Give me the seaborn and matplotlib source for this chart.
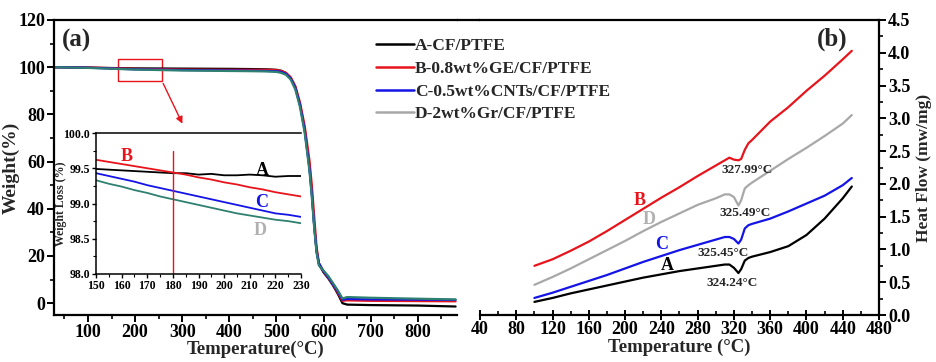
import matplotlib
matplotlib.use("Agg")
import matplotlib.pyplot as plt
import seaborn as sns
import pandas as pd
from matplotlib.lines import Line2D
from matplotlib.patches import Rectangle
from matplotlib.ticker import MultipleLocator, FormatStrFormatter

# ---------------- data ----------------
series_names = ["A-CF/PTFE", "B-0.8wt%GE/CF/PTFE", "C-0.5wt%CNTs/CF/PTFE", "D-2wt%Gr/CF/PTFE"]
legend_colors = ["#000000", "#e8141c", "#1414e6", "#a8a8a8"]
tga_colors = ["#000000", "#e8141c", "#1414e6", "#2e8070"]

tga_temp = [30, 100, 200, 300, 400, 450, 480, 500, 510, 520, 530, 540, 550, 560, 570, 575,
            580, 585, 590, 600, 610, 620, 630, 640, 650, 700, 800, 880]
tga_A = [100.0, 99.8, 99.5, 99.4, 99.3, 99.2, 99.1, 98.9, 98.5, 97.6, 95.5, 91.5, 84.0, 73.5,
         58.0, 47.0, 33.0, 22.0, 16.5, 13.0, 10.5, 7.5, 4.0, 0.0, -0.6, -0.8, -1.0, -1.4]
tga_B = [100.0, 99.9, 99.3, 99.0, 98.9, 98.9, 98.9, 98.8, 98.4, 97.6, 95.8, 92.0, 85.0, 75.0,
         60.5, 50.0, 37.0, 24.0, 17.0, 13.3, 10.8, 7.8, 4.5, 1.0, 1.2, 1.0, 0.9, 0.8]
tga_C = [100.0, 99.8, 99.1, 98.8, 98.6, 98.5, 98.4, 98.3, 98.0, 97.2, 95.3, 91.3, 84.0, 73.0,
         57.0, 46.0, 33.0, 22.5, 17.0, 13.5, 11.0, 8.0, 5.0, 1.5, 1.8, 1.6, 1.5, 1.4]
tga_D = [100.0, 99.7, 99.0, 98.6, 98.4, 98.3, 98.2, 98.0, 97.6, 96.8, 94.8, 90.5, 83.0, 72.0,
         56.0, 45.0, 32.0, 21.5, 16.0, 13.8, 11.5, 8.5, 5.5, 2.0, 2.6, 2.3, 1.9, 1.6]

inset_temp = [150, 155, 160, 165, 170, 175, 180, 185, 190, 195, 200, 205, 210, 215, 220, 225, 230]
inset_A = [99.49, 99.48, 99.47, 99.46, 99.45, 99.44, 99.43, 99.43, 99.41, 99.42, 99.40, 99.40,
           99.41, 99.40, 99.38, 99.39, 99.39]
inset_B = [99.62, 99.59, 99.56, 99.53, 99.50, 99.47, 99.44, 99.41, 99.37, 99.34, 99.30, 99.27,
           99.23, 99.20, 99.16, 99.13, 99.10]
inset_C = [99.43, 99.39, 99.35, 99.31, 99.26, 99.22, 99.18, 99.14, 99.10, 99.06, 99.02, 98.98,
           98.94, 98.90, 98.86, 98.84, 98.81]
inset_D = [99.33, 99.28, 99.24, 99.19, 99.15, 99.10, 99.06, 99.02, 98.98, 98.94, 98.90, 98.86,
           98.83, 98.80, 98.77, 98.75, 98.72]

dsc_temp = [100, 120, 140, 160, 180, 200, 220, 240, 260, 280, 300, 310, 315, 320, 325, 328,
            332, 336, 340, 360, 380, 400, 420, 440, 450]
dsc_A = [0.20, 0.26, 0.33, 0.39, 0.45, 0.51, 0.57, 0.62, 0.67, 0.71, 0.75, 0.77, 0.77, 0.72,
         0.64, 0.70, 0.83, 0.87, 0.89, 0.96, 1.05, 1.22, 1.47, 1.78, 1.96]
dsc_B = [0.75, 0.85, 0.98, 1.12, 1.28, 1.45, 1.62, 1.79, 1.95, 2.12, 2.28, 2.36, 2.40, 2.37,
         2.36, 2.38, 2.52, 2.62, 2.67, 2.95, 3.17, 3.42, 3.65, 3.90, 4.03]
dsc_C = [0.26, 0.34, 0.43, 0.52, 0.61, 0.71, 0.81, 0.90, 0.99, 1.07, 1.15, 1.19, 1.19, 1.16,
         1.09, 1.15, 1.32, 1.37, 1.39, 1.47, 1.58, 1.70, 1.82, 1.98, 2.09]
dsc_D = [0.46, 0.58, 0.71, 0.85, 0.99, 1.13, 1.28, 1.42, 1.55, 1.68, 1.78, 1.84, 1.84, 1.80,
         1.67, 1.75, 1.93, 1.98, 2.02, 2.20, 2.38, 2.55, 2.73, 2.92, 3.05]

peak_labels = ["324.24°C", "327.99°C", "325.45°C", "325.49°C"]

# ---------------- style ----------------
sns.set_theme(style="ticks")
plt.rcParams["font.family"] = ["Liberation Serif", "DejaVu Serif"]
plt.rcParams["font.weight"] = "bold"
plt.rcParams["axes.labelweight"] = "bold"
plt.rcParams["axes.linewidth"] = 1.6
plt.rcParams["xtick.major.width"] = 1.4
plt.rcParams["ytick.major.width"] = 1.4
plt.rcParams["xtick.minor.width"] = 1.2
plt.rcParams["ytick.minor.width"] = 1.2
plt.rcParams["xtick.color"] = "black"
plt.rcParams["ytick.color"] = "black"
plt.rcParams["axes.edgecolor"] = "black"

W, H = 936, 362
fig = plt.figure(figsize=(W / 100, H / 100), dpi=100)

def fx(px):
    return px / W

def fy(py):
    return 1 - py / H

ax1 = fig.add_axes([fx(54), fy(315), fx(457) - fx(54), fy(20) - fy(315)])
ax2 = fig.add_axes([fx(480), fy(315), fx(879) - fx(480), fy(20) - fy(315)])

# ---------------- panel (a) ----------------
tga_df = pd.DataFrame({"T": tga_temp * 4,
                       "W": tga_A + tga_B + tga_C + tga_D,
                       "s": sum([[n] * len(tga_temp) for n in series_names], [])})
sns.lineplot(data=tga_df, x="T", y="W", hue="s", palette=tga_colors, hue_order=series_names,
             ax=ax1, linewidth=1.6, legend=False, sort=False, estimator=None)
ax1.set_xlim(28, 883)
ax1.set_ylim(-5, 120)
ax1.set_xticks([100, 200, 300, 400, 500, 600, 700, 800])
ax1.xaxis.set_minor_locator(MultipleLocator(50))
ax1.yaxis.set_major_locator(MultipleLocator(20))
ax1.yaxis.set_minor_locator(MultipleLocator(10))
ax1.spines["right"].set_visible(False)
ax1.tick_params(axis="both", which="major", direction="out", length=5, labelsize=13, pad=1.5)
ax1.tick_params(axis="both", which="minor", direction="out", length=3)
ax1.tick_params(top=False, right=False)
ax1.set_xlabel("Temperature(°C)", fontsize=13.5, labelpad=0)
ax1.set_ylabel("Weight(%)", fontsize=14)
ax1.yaxis.set_label_coords(-0.085, 0.5)
ax1.text(76, 111.5, "(a)", fontsize=18, fontweight="bold", ha="center", va="center")

ax1.add_patch(Rectangle((163, 94.2), 94, 9.3, fill=False, edgecolor="#e8141c", linewidth=1.0))
ax1.annotate("", xy=(303, 75), xytext=(257, 94.2),
             arrowprops=dict(arrowstyle="-|>", color="#e8141c", lw=1.0, mutation_scale=10))

# bridging top line between the panels
fig.add_artist(Line2D([fx(457), fx(480)], [fy(20), fy(20)], color="black", linewidth=1.6))

# inset
axi = fig.add_axes([fx(96), fy(274), fx(301) - fx(96), fy(133) - fy(274)])
inset_df = pd.DataFrame({"T": inset_temp * 4,
                         "W": inset_A + inset_B + inset_C + inset_D,
                         "s": sum([[n] * len(inset_temp) for n in series_names], [])})
sns.lineplot(data=inset_df, x="T", y="W", hue="s", palette=tga_colors, hue_order=series_names,
             ax=axi, linewidth=1.3, legend=False, sort=False, estimator=None)
axi.set_xlim(150, 230)
axi.set_ylim(98.0, 100.0)
axi.xaxis.set_major_locator(MultipleLocator(10))
axi.xaxis.set_minor_locator(MultipleLocator(5))
axi.yaxis.set_major_locator(MultipleLocator(0.5))
axi.yaxis.set_minor_locator(MultipleLocator(0.25))
axi.yaxis.set_major_formatter(FormatStrFormatter("%.1f"))
axi.spines["right"].set_visible(False)
for s in axi.spines.values():
    s.set_linewidth(1.1)
axi.tick_params(axis="both", which="major", direction="out", length=3, width=1.0, labelsize=8.5, pad=1.5)
axi.tick_params(axis="both", which="minor", direction="out", length=2, width=0.8)
axi.set_xlabel("")
axi.set_ylabel("Weight Loss (%)", fontsize=8.5)
axi.yaxis.set_label_coords(-0.14, 0.5)
axi.plot([180, 180], [98.0, 99.74], color="#e8141c", linewidth=1.0)
axi.text(162, 99.67, "B", color="#e8141c", fontsize=13, fontweight="bold", ha="center", va="center")
axi.text(215, 99.47, "A", color="black", fontsize=13, fontweight="bold", ha="center", va="center")
axi.text(214.7, 99.01, "C", color="#1414e6", fontsize=13, fontweight="bold", ha="center", va="center")
axi.text(214, 98.62, "D", color="#b0b0b0", fontsize=13, fontweight="bold", ha="center", va="center")

# ---------------- panel (b) ----------------
dsc_df = pd.DataFrame({"T": dsc_temp * 4,
                       "Q": dsc_A + dsc_B + dsc_C + dsc_D,
                       "s": sum([[n] * len(dsc_temp) for n in series_names], [])})
sns.lineplot(data=dsc_df, x="T", y="Q", hue="s", palette=legend_colors, hue_order=series_names,
             ax=ax2, linewidth=1.6, legend=False, sort=False, estimator=None)
ax2.set_xlim(40, 480)
ax2.set_ylim(0, 4.5)
ax2.xaxis.set_major_locator(MultipleLocator(40))
ax2.xaxis.set_minor_locator(MultipleLocator(20))
ax2.yaxis.set_major_locator(MultipleLocator(0.5))
ax2.yaxis.set_minor_locator(MultipleLocator(0.25))
ax2.yaxis.set_major_formatter(FormatStrFormatter("%.1f"))
ax2.spines["left"].set_visible(False)
ax2.yaxis.tick_right()
ax2.yaxis.set_label_position("right")
ax2.tick_params(axis="x", which="major", direction="inout", length=7, labelsize=13, pad=1)
ax2.tick_params(axis="x", which="minor", direction="in", length=3)
ax2.tick_params(axis="y", which="major", direction="out", length=5, labelsize=13, pad=1.5)
ax2.tick_params(axis="y", which="minor", direction="out", length=3)
ax2.tick_params(left=False, top=False)
ax2.set_xlabel("Temperature (°C)", fontsize=13.5, labelpad=0)
ax2.set_ylabel("Heat Flow (mw/mg)", fontsize=12.5, labelpad=4)
ax2.text(428, 4.2, "(b)", fontsize=18, fontweight="bold", ha="center", va="center")

ax2.text(317.5, 0.49, peak_labels[0], fontsize=9.5, fontweight="bold", ha="center", va="center")
ax2.text(335, 2.21, peak_labels[1], fontsize=9.5, fontweight="bold", ha="center", va="center")
ax2.text(307.6, 0.94, peak_labels[2], fontsize=9.5, fontweight="bold", ha="center", va="center")
ax2.text(332, 1.55, peak_labels[3], fontsize=9.5, fontweight="bold", ha="center", va="center")

ax2.text(216, 1.75, "B", color="#e8141c", fontsize=13, fontweight="bold", ha="center", va="center")
ax2.text(227, 1.45, "D", color="#b0b0b0", fontsize=13, fontweight="bold", ha="center", va="center")
ax2.text(240, 1.07, "C", color="#1414e6", fontsize=13, fontweight="bold", ha="center", va="center")
ax2.text(247, 0.76, "A", color="black", fontsize=13, fontweight="bold", ha="center", va="center")

# ---------------- legend ----------------
handles = [Line2D([], [], color=c, linewidth=1.8) for c in legend_colors]
fig.legend(handles, series_names, loc="upper left", bbox_to_anchor=(fx(376), fy(38)),
           frameon=False, fontsize=12.5, handlelength=2.2, handletextpad=0.05,
           labelspacing=0.38, borderaxespad=0, borderpad=0)

fig.savefig("out.png", dpi=100)
